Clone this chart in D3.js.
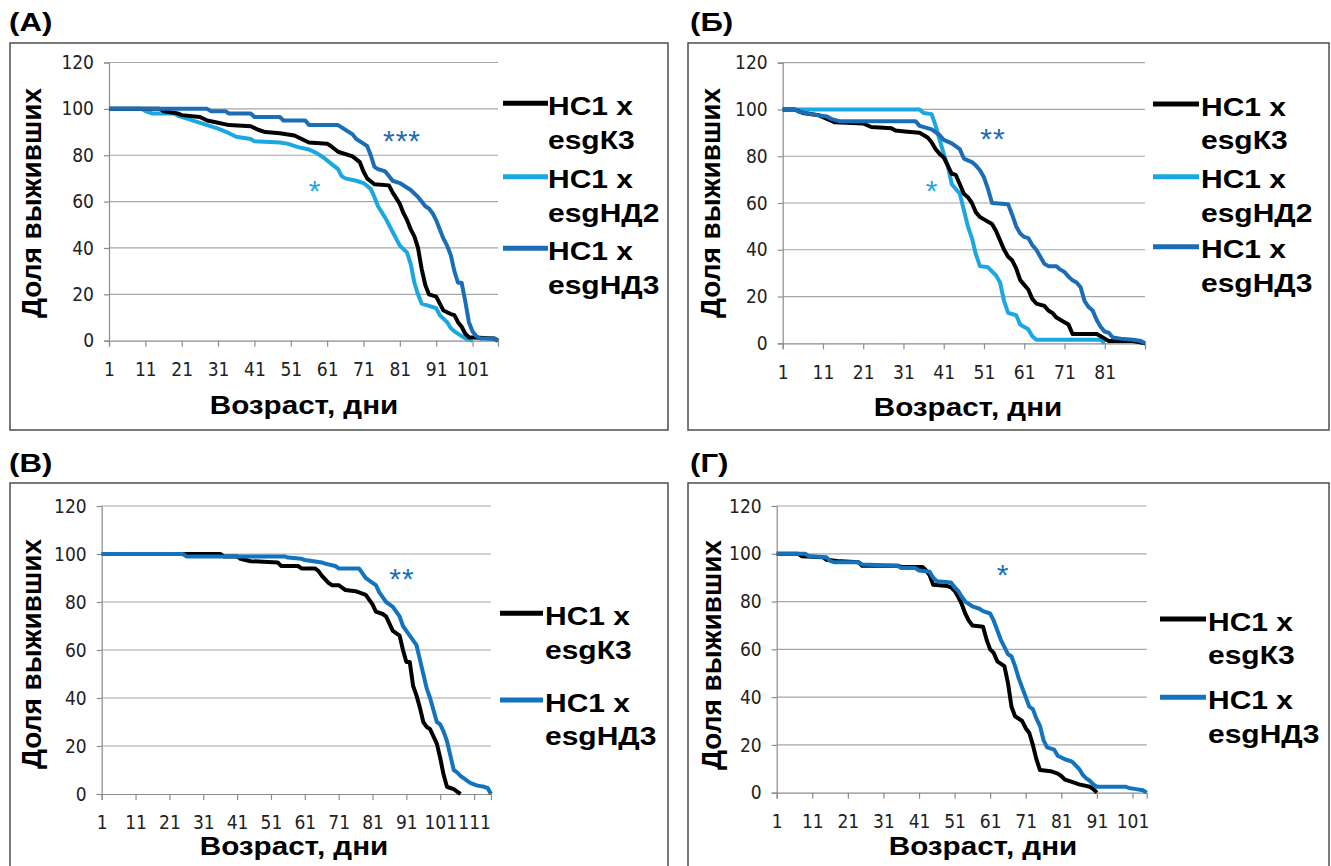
<!DOCTYPE html>
<html>
<head>
<meta charset="utf-8">
<script src="https://cdn.jsdelivr.net/npm/d3@7"></script>
<style>
  body { margin: 0; background: #fff; }
  .tick text { font-family: "Liberation Sans Narrow", "DejaVu Sans Condensed", "Liberation Sans", sans-serif; }
</style>
</head>
<body>
<div id="chart"></div>
<script>
// survival (%) by age in days as [day, value] breakpoints
var yTicks = [0, 20, 40, 60, 80, 100, 120];
var xTitle = "Возраст, дни";
var yTitle = "Доля выживших";

// (А)
var ticksA = [1, 11, 21, 31, 41, 51, 61, 71, 81, 91, 101];
var a_K3 = [[1,100],[15,100],[16,99],[20,98],[21,97.3],[26,96.5],[28,95],[31,94],[34,93],[40,92.5],[42,91],[44,90],[48,89.5],[52,88.5],[54,87],[56,85.5],[61,85],[62,84],[64,81.5],[68,79.5],[70,77],[71,73],[72,70],[74,67.5],[78,67],[79,64],[81,59],[82,55],[83,52],[84,48],[85,45],[86,40],[87,31],[88,24],[89,20],[91,19],[92,16],[93,13],[95,11.5],[96,11],[97,8],[98,6],[99,3],[100,1.5],[107,1],[108,0]];
var a_ND2 = [[1,100],[10,100],[11,99],[13,98],[19,98],[20,97],[22,96],[25,94.5],[28,93],[31,91.5],[34,89.5],[36,88],[40,87],[41,86],[48,85.5],[50,85],[53,83.5],[56,82.5],[58,81],[60,79],[62,76.5],[64,74],[65,71],[66,70],[69,69],[71,68],[73,65.5],[74,62],[75,58],[77,53],[79,47],[81,41],[83,38],[84,33],[85,25],[86,20],[87,16],[89,15],[91,14],[92,11],[94,8],[95,5.5],[96,4],[98,2],[99,1],[101,0]];
var a_ND3 = [[1,100],[28,100],[29,99],[33,99],[34,98],[40,98],[41,96.5],[48,96.5],[49,95],[55,95],[56,93],[64,93],[65,92],[66,91],[68,89],[69,87],[71,85],[72,84],[73,80],[74,75],[75,74],[77,73],[78,71],[79,69],[81,68],[83,66],[84,65],[86,62],[87,60],[88,58],[89,57],[90,55],[91,52],[92,48],[93,44],[94,41],[95,37],[96,30],[97,25],[98,25],[99,17],[100,8],[101,4],[102,2],[103,1],[107,1],[108,0]];

// (Б)
var ticksB = [1, 11, 21, 31, 41, 51, 61, 71, 81];
var b_K3 = [[1,100],[4,100],[6,98.5],[10,97.5],[12,96],[14,94.5],[21,94],[23,92.5],[28,92],[29,91],[32,90.5],[35,90],[37,88],[38,86],[39,83],[40,81],[41,79.5],[42,76],[43,72.5],[44,72],[45,68],[46,64],[47,62.5],[48,60],[49,56],[50,54],[51,53],[53,51],[54,48],[55,44],[56,40],[57,37],[58,35.5],[59,32],[60,27],[61,25],[62,23],[63,19],[64,17],[66,16],[67,14],[68,13],[69,11],[71,9],[72,8],[73,4],[79,4],[80,3],[81,2],[82,1],[88,1],[91,0]];
var b_ND2 = [[1,100],[35,100],[36,98.5],[38,98],[39,93],[40,87],[41,81],[42,76],[43,68],[44,66],[45,64],[46,57],[47,50],[48,45],[49,38],[50,33],[52,32.5],[54,29],[55,26],[56,18],[57,13],[59,12],[60,8],[61,7],[62,6],[63,3],[64,1.5],[80,1.5],[81,0]];
var b_ND3 = [[1,100],[4,100],[5,99],[8,98],[12,97],[13,96],[15,95],[34,95],[35,93],[38,91.5],[40,89],[41,87],[43,85.5],[45,83],[46,79],[48,77.5],[49,76],[50,74],[51,71],[52,66],[53,60],[57,59.5],[58,55],[59,50],[60,47],[61,45.5],[62,45],[63,42],[64,40],[65,37],[66,34],[67,33],[69,33],[70,31.5],[71,30.5],[72,28.5],[73,27],[74,26],[75,24],[76,18],[77,15.5],[78,14],[79,10],[80,7],[81,5],[82,4.5],[83,2.5],[85,2],[88,1.5],[90,1],[91,0]];

// (В)
var ticksC = [1, 11, 21, 31, 41, 51, 61, 71, 81, 91, 101, 111];
var c_K3 = [[1,100],[36,100],[37,99],[41,99],[42,98],[45,97],[53,96.5],[54,95],[59,95],[60,94],[64,94],[65,93],[66,91],[68,88],[69,87],[71,87],[72,86],[73,85],[76,84.5],[77,84],[79,83],[80,81],[81,79],[82,76],[84,75],[85,74],[86,71],[87,68],[89,66],[90,60],[91,55],[92,55],[93,45],[94,41],[95,36],[96,30],[97,28],[98,27],[99,24],[100,21],[101,15],[102,8],[103,3],[104,2.5],[105,2],[106,1],[107,0]];
var c_ND3 = [[1,100],[25,100],[26,99],[55,99],[56,98.5],[60,98],[61,97.5],[66,96.5],[67,96],[70,95],[71,94],[77,94],[78,92],[79,90],[80,89],[81,88],[82,87],[83,84],[84,82],[85,80],[86,79],[87,78],[88,76],[89,74],[90,70],[91,68],[92,66],[93,64],[94,62],[95,56],[96,50],[97,44],[98,40],[99,35],[100,30],[101,29],[102,26],[103,22],[104,16],[105,10],[106,9],[107,7.5],[108,6.5],[109,5.5],[110,4.5],[112,3.5],[114,3],[115,2.5],[116,0]];

// (Г)
var ticksD = [1, 11, 21, 31, 41, 51, 61, 71, 81, 91, 101];
var d_K3 = [[1,100],[7,100],[8,99],[14,98.5],[15,97.5],[18,97],[24,96.5],[25,95],[35,95],[36,94.5],[42,94.5],[43,93],[44,91],[45,87],[49,86.5],[50,86],[51,84.5],[52,82],[53,79],[54,75],[55,72],[56,70],[59,69.5],[60,64],[61,60],[62,58.5],[63,55],[65,53],[66,46],[67,36],[68,32],[70,30],[71,27],[72,25],[73,20],[74,14],[75,9.5],[78,9],[80,8],[81,7],[82,5.5],[84,4.5],[86,3.5],[89,2.5],[90,1.5],[91,0]];
var d_ND3 = [[1,100],[9,100],[10,99],[15,98.5],[16,97],[17,96.5],[24,96.5],[25,95.5],[35,95],[36,94],[40,94],[41,93],[44,92.5],[45,90],[46,88.5],[50,88],[51,86],[52,84.5],[53,82],[54,80],[55,79],[56,78],[58,77],[59,76],[61,75],[62,72],[63,68],[64,64],[65,61],[66,58],[67,57],[68,53],[69,48],[70,44],[71,40],[72,36],[73,35],[74,31],[75,28],[76,22],[77,19],[79,18],[80,15.5],[82,14],[84,13],[85,11.5],[86,10],[87,7.5],[88,6],[89,5],[90,3.5],[91,2.5],[99,2.5],[100,2],[102,1.5],[104,1],[105,0]];

var legK3 = "esgК3", legND2 = "esgНД2", legND3 = "esgНД3";
var legHead = "НС1 x";

var cBlack = "#000000", cLight = "#1ba7e1", cDark = "#1b6db6", cBlue = "#1273bf";

var panels = [
  { label: "(А)", lx: 9, ly: 31, box: [10, 43, 658, 387],
    plot: {l: 109, r: 498, t: 62.5, b: 340.7}, maxDay: 108, ticks: ticksA,
    xTitleX: 304, xTitleY: 414, yTitleX: 41, yTitleY: 203,
    series: [
      {data: a_ND2, color: cLight, name: legND2, ly: 176.7},
      {data: a_K3, color: cBlack, name: legK3, ly: 103.3},
      {data: a_ND3, color: cDark, name: legND3, ly: 248.3}],
    leg: {x1: 503, x2: 548, tx: 548},
    stars: [{t: "*", x: 315, y: 183, c: cLight}, {t: "***", x: 402, y: 133, c: cDark}] },
  { label: "(Б)", lx: 690, ly: 31, box: [688, 43, 641, 387],
    plot: {l: 782.7, r: 1145, t: 62.7, b: 343.3}, maxDay: 91, ticks: ticksB,
    xTitleX: 968, xTitleY: 416, yTitleX: 720, yTitleY: 203,
    series: [
      {data: b_ND2, color: cLight, name: legND2, ly: 176.7},
      {data: b_K3, color: cBlack, name: legK3, ly: 104},
      {data: b_ND3, color: cDark, name: legND3, ly: 246.7}],
    leg: {x1: 1153, x2: 1199, tx: 1201},
    stars: [{t: "*", x: 932, y: 183, c: cLight}, {t: "**", x: 993, y: 131, c: cDark}] },
  { label: "(В)", lx: 9, ly: 472, box: [10, 483, 658, 420],
    plot: {l: 101.7, r: 491, t: 506, b: 794}, maxDay: 116, ticks: ticksC,
    xTitleX: 294, xTitleY: 855, yTitleX: 41, yTitleY: 654,
    series: [
      {data: c_K3, color: cBlack, name: legK3, ly: 613.3},
      {data: c_ND3, color: cBlue, name: legND3, ly: 700}],
    leg: {x1: 500, x2: 543, tx: 545},
    stars: [{t: "**", x: 402, y: 571, c: cBlue}] },
  { label: "(Г)", lx: 690, ly: 472, box: [688, 483, 641, 420],
    plot: {l: 776.7, r: 1146.7, t: 506, b: 792.7}, maxDay: 105, ticks: ticksD,
    xTitleX: 983, xTitleY: 855, yTitleX: 721, yTitleY: 655,
    series: [
      {data: d_K3, color: cBlack, name: legK3, ly: 619},
      {data: d_ND3, color: cBlue, name: legND3, ly: 697.3}],
    leg: {x1: 1160, x2: 1206, tx: 1208},
    stars: [{t: "*", x: 1003, y: 567, c: cBlue}] }
];

var boldFont = "Liberation Sans, Arial, sans-serif";

var svg = d3.select("#chart")
  .append("svg")
    .attr("width", 1331)
    .attr("height", 866)
    .style("display", "block");

svg.append("rect").attr("width", 1331).attr("height", 866).attr("fill", "#fff");

panels.forEach(function(p) {
  var g = svg.append("g");

  // frame and panel letter
  g.append("rect")
    .attr("x", p.box[0]).attr("y", p.box[1])
    .attr("width", p.box[2]).attr("height", p.box[3])
    .attr("fill", "none").attr("stroke", "#4d4d4d").attr("stroke-width", 1.5);
  g.append("text")
    .attr("transform", "translate(" + p.lx + "," + p.ly + ") scale(1.2,1)")
    .style("font-family", boldFont)
    .style("font-weight", "bold").style("font-size", "26px")
    .text(p.label);

  var x = d3.scaleLinear().domain([1, p.maxDay]).range([p.plot.l, p.plot.r]);
  var y = d3.scaleLinear().domain([0, 120]).range([p.plot.b, p.plot.t]);

  // horizontal gridlines
  g.append("g").selectAll("line")
    .data(yTicks.filter(function(v) { return v > 0; }))
    .enter().append("line")
      .attr("x1", p.plot.l).attr("x2", p.plot.r)
      .attr("y1", function(v) { return y(v); })
      .attr("y2", function(v) { return y(v); })
      .attr("stroke", "#a6a6a6").attr("stroke-width", 1.2);

  // Y axis
  var yAxis = g.append("g")
    .attr("transform", "translate(" + p.plot.l + ",0)")
    .call(d3.axisLeft(y).tickValues(yTicks).tickSize(5).tickPadding(10));
  yAxis.selectAll("text").style("font-size", "19px").attr("fill", "#222");

  // X axis
  var tickMarks = d3.range(1, p.maxDay + 1, 10);
  var xAxis = g.append("g")
    .attr("transform", "translate(0," + p.plot.b + ")")
    .call(d3.axisBottom(x).tickValues(tickMarks).tickSize(6).tickFormat(function(d) {
      return p.ticks.indexOf(d) >= 0 ? d : "";
    }));
  xAxis.selectAll("text")
    .attr("y", 22).attr("dy", "0.71em")
    .style("font-size", "19px").attr("fill", "#222");

  [yAxis, xAxis].forEach(function(a) {
    a.select(".domain").attr("stroke", "#8c8c8c").attr("stroke-width", 1.2);
    a.selectAll(".tick line").attr("stroke", "#8c8c8c").attr("stroke-width", 1.2);
  });

  // survival curves
  var line = d3.line()
    .x(function(d) { return x(d[0]); })
    .y(function(d) { return y(d[1]); });

  p.series.forEach(function(s) {
    g.append("path")
      .datum(s.data)
      .attr("d", line)
      .attr("fill", "none")
      .attr("stroke", s.color)
      .attr("stroke-width", 4)
      .attr("stroke-linejoin", "round");
  });

  // legend
  p.series.forEach(function(s) {
    g.append("line")
      .attr("x1", p.leg.x1).attr("x2", p.leg.x2)
      .attr("y1", s.ly).attr("y2", s.ly)
      .attr("stroke", s.color).attr("stroke-width", 5);
    var t = g.append("text")
      .attr("transform", "translate(" + p.leg.tx + "," + (s.ly + 11.5) + ") scale(1.2,1)")
      .style("font-family", boldFont)
      .style("font-weight", "bold").style("font-size", "25px");
    t.append("tspan").attr("x", 0).attr("y", 0).text(legHead);
    t.append("tspan").attr("x", 0).attr("y", 34).text(s.name);
  });

  // axis titles
  g.append("text")
    .attr("transform", "translate(" + p.xTitleX + "," + p.xTitleY + ") scale(1.14,1)")
    .attr("text-anchor", "middle")
    .style("font-family", boldFont)
    .style("font-weight", "bold").style("font-size", "26px")
    .text(xTitle);
  g.append("text")
    .attr("transform", "translate(" + p.yTitleX + "," + p.yTitleY + ") rotate(-90)")
    .attr("text-anchor", "middle")
    .style("font-family", boldFont)
    .style("font-weight", "bold").style("font-size", "28px")
    .text(yTitle);

  // significance marks
  p.stars.forEach(function(st) {
    g.append("text")
      .attr("x", st.x).attr("y", st.y + 18)
      .attr("text-anchor", "middle")
      .attr("fill", st.c)
      .style("font-family", boldFont)
      .style("font-size", "30px")
      .style("letter-spacing", "1px")
      .text(st.t);
  });
});
</script>
</body>
</html>
